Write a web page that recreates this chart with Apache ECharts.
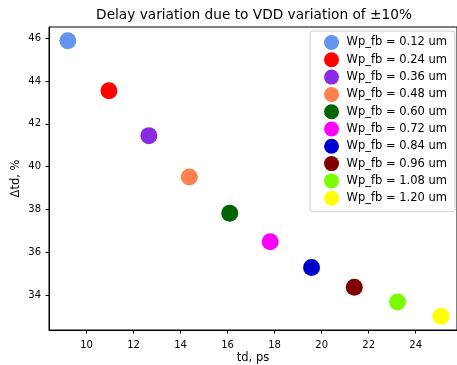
<!DOCTYPE html>
<html>
<head>
<meta charset="utf-8">
<script src="https://cdn.jsdelivr.net/npm/echarts@6/dist/echarts.min.js"></script>
<style>
  html, body { margin: 0; padding: 0; background: #fff; }
  #chart { width: 457px; height: 365px; }
</style>
</head>
<body>
<div id="chart"></div>
<script>
// widths of the feedback PMOS, one series each
var widths = ['0.12', '0.24', '0.36', '0.48', '0.60', '0.72', '0.84', '0.96', '1.08', '1.20'];
var tdValues = [9.20, 10.95, 12.65, 14.37, 16.09, 17.81, 19.57, 21.39, 23.23, 25.08];
var deltaTd = [45.89, 43.55, 41.45, 39.52, 37.82, 36.49, 35.28, 34.36, 33.67, 33.00];
var colors = ['#6495ED', '#FF0000', '#8A2BE2', '#FF7F50', '#006400',
              '#FF00FF', '#0000CD', '#800000', '#7CFC00', '#FFFF00'];
var xTicks = [10, 12, 14, 16, 18, 20, 22, 24];
var yTicks = [34, 36, 38, 40, 42, 44, 46];

var font = "'DejaVu Sans', sans-serif";
var chart = echarts.init(document.getElementById('chart'));

var series = [];
for (var i = 0; i < widths.length; i++) {
    series.push({
        name: 'Wp_fb = ' + widths[i] + ' um',
        type: 'scatter',
        symbol: 'circle',
        symbolSize: 17,
        itemStyle: { color: colors[i], opacity: 1 },
        data: [[tdValues[i], deltaTd[i]]]
    });
}

var option = {
    animation: false,
    backgroundColor: '#fff',
    title: {
        text: 'Delay variation due to VDD variation of \u00b110%',
        left: 254,
        textAlign: 'center',
        top: 8,
        padding: 0,
        textStyle: { fontFamily: font, fontSize: 13.7, fontWeight: 'normal', color: '#000' }
    },
    legend: {
        orient: 'vertical',
        right: 2,
        top: 31,
        icon: 'circle',
        itemWidth: 20,
        itemHeight: 15,
        itemGap: 2.3,
        padding: [4, 8, 6, 14],
        borderColor: '#d0d0d0',
        borderWidth: 1,
        borderRadius: 3,
        backgroundColor: 'rgba(255,255,255,0.8)',
        textStyle: { fontFamily: font, fontSize: 11.5, color: '#000' },
        data: series.map(function (s) { return s.name; })
    },
    grid: {
        left: 49, right: 0, top: 27, bottom: 35,
        outerBoundsMode: 'none',
        containLabel: false,
        show: true,
        borderColor: '#000',
        borderWidth: 1
    },
    xAxis: {
        type: 'value',
        min: 8.4,
        max: 25.76,
        name: 'td, ps',
        nameLocation: 'middle',
        nameGap: 22,
        nameMoveOverlap: false,
        nameTextStyle: { fontFamily: font, fontSize: 11.5, color: '#000' },
        axisLine: { show: true, lineStyle: { color: '#000' } },
        axisTick: { show: true, length: 3.5, customValues: xTicks, lineStyle: { color: '#000' } },
        axisLabel: {
            fontFamily: font, fontSize: 10, color: '#000', margin: 10,
            customValues: xTicks
        },
        splitLine: { show: false }
    },
    yAxis: {
        type: 'value',
        min: 32.36,
        max: 46.53,
        name: '\u0394td, %',
        nameLocation: 'middle',
        nameGap: 27,
        nameMoveOverlap: false,
        nameTextStyle: { fontFamily: font, fontSize: 11.5, color: '#000' },
        axisLine: { show: true, lineStyle: { color: '#000' } },
        axisTick: { show: true, length: 3.5, customValues: yTicks, lineStyle: { color: '#000' } },
        axisLabel: {
            fontFamily: font, fontSize: 10, color: '#000', margin: 8,
            customValues: yTicks
        },
        splitLine: { show: false }
    },
    series: series
};

chart.setOption(option);
</script>
</body>
</html>
